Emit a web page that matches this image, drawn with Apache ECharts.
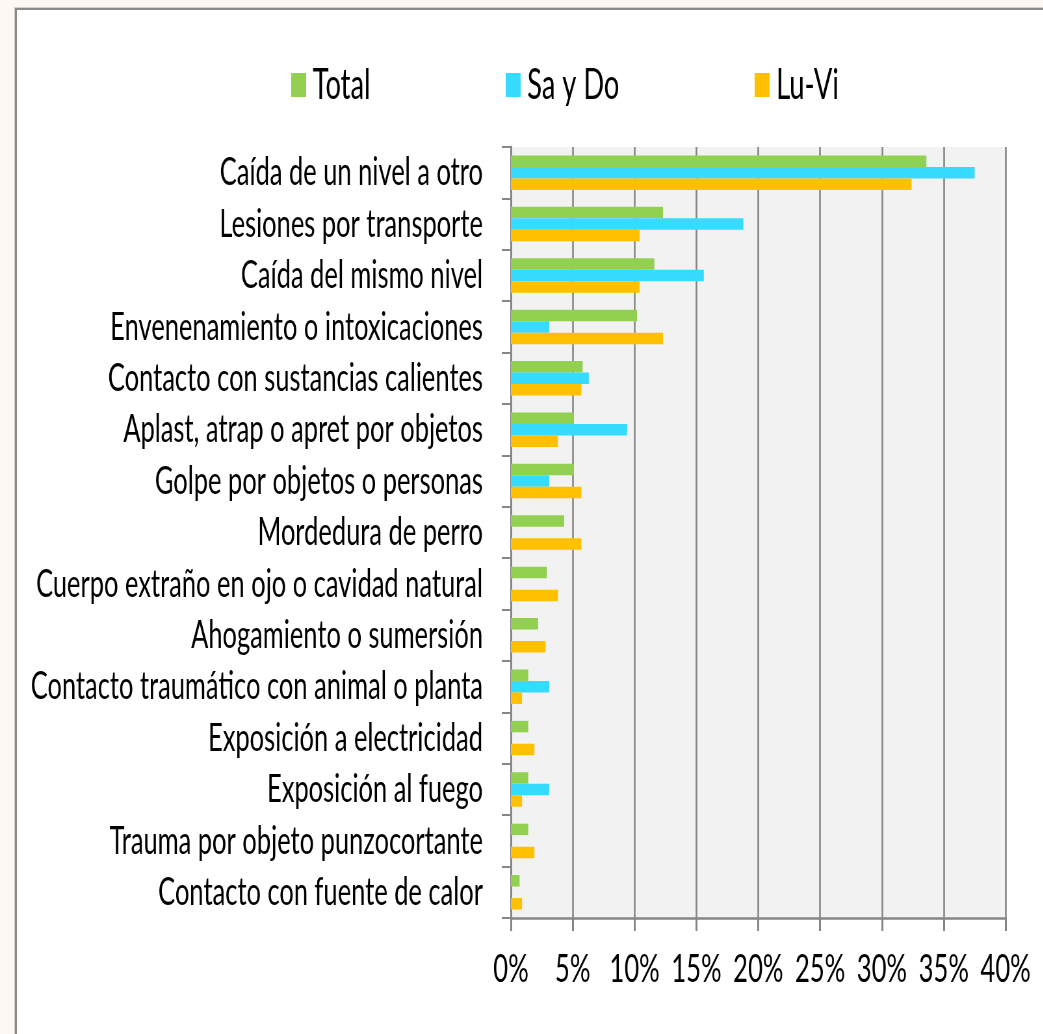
<!DOCTYPE html>
<html>
<head>
<meta charset="utf-8">
<script src="https://cdn.jsdelivr.net/npm/echarts@6/dist/echarts.min.js"></script>
<style>
  html,body{margin:0;padding:0;width:1043px;height:1034px;overflow:hidden;background:#fdf8f3;}
  /* tarjeta blanca con borde gris arriba e izquierda */
  #card{
    position:absolute;left:15px;top:8px;width:1100px;height:1100px;
    background:#fff;
    border-top:2px solid #8a8a8a;border-left:2px solid #8a8a8a;
    box-shadow:-1px -1px 0 #d6d2cc;
  }
  /* el original esta comprimido en horizontal, se reproduce con scaleX */
  #chart{
    position:absolute;left:0;top:0;width:1605px;height:1034px;
    transform:scaleX(0.65);transform-origin:0 0;
  }
</style>
</head>
<body>
<div id="card"></div>
<div id="chart"></div>
<script>
const categories = [
  'Caída de un nivel a otro',
  'Lesiones por transporte',
  'Caída del mismo nivel',
  'Envenenamiento o intoxicaciones',
  'Contacto con sustancias calientes',
  'Aplast, atrap o apret por objetos',
  'Golpe por objetos o personas',
  'Mordedura de perro',
  'Cuerpo extraño en ojo o cavidad natural',
  'Ahogamiento o sumersión',
  'Contacto traumático con animal o planta',
  'Exposición a electricidad',
  'Exposición al fuego',
  'Trauma por objeto punzocortante',
  'Contacto con fuente de calor'
]
const total = [33.6, 12.3, 11.6, 10.2, 5.8, 5.1, 5.1, 4.3, 2.9, 2.2, 1.4, 1.4, 1.4, 1.4, 0.7]
const sayDo = [37.5, 18.8, 15.6, 3.1, 6.3, 9.4, 3.1, 0, 0, 0, 3.1, 0, 3.1, 0, 0]
const luVi  = [32.4, 10.4, 10.4, 12.3, 5.7, 3.8, 5.7, 5.7, 3.8, 2.8, 0.9, 1.9, 0.9, 1.9, 0.9]
const seriesNames = ['Total', 'Sa y Do', 'Lu-Vi']
const colors = ['#92d050', '#37dbff', '#ffc000']

const font = 'Lato'
const axisGray = '#868686'

let chart = echarts.init(document.getElementById('chart'))

let option = {
  animation:false,
  color:colors,
  legend:{
    left:448,
    top:64,
    padding:0,
    icon:'rect',
    itemWidth:23,
    itemHeight:24,
    itemGap:208,
    data:seriesNames,
    textStyle:{fontSize:42, fontFamily:font, color:'#000', padding:[0,0,0,5]}
  },
  grid:{
    left:786,
    right:58,
    top:147,
    bottom:116,
    show:true,
    backgroundColor:'#f2f2f2',
    borderWidth:0,
    outerBoundsMode:'none'
  },
  xAxis:{
    type:'value',
    min:0,
    max:40,
    interval:5,
    axisLine:{show:true, lineStyle:{color:axisGray, width:2.5}},
    axisTick:{show:true, length:13, lineStyle:{color:axisGray, width:3}},
    splitLine:{show:true, lineStyle:{color:axisGray, width:2.6}},
    axisLabel:{
      margin:31,
      fontSize:39.5,
      fontFamily:font,
      color:'#000',
      formatter:'{value}%'
    }
  },
  yAxis:{
    type:'category',
    inverse:true,
    data:categories,
    axisLine:{show:true, lineStyle:{color:axisGray, width:3}},
    axisTick:{show:true, length:14, lineStyle:{color:axisGray, width:2}},
    axisLabel:{
      interval:0, // mostrar todas las categorias
      margin:43,
      fontSize:39.2,
      fontFamily:font,
      color:'#000'
    }
  },
  series:[
    {name:seriesNames[0], type:'bar', data:total, barWidth:11.5, barGap:'0%'},
    {name:seriesNames[1], type:'bar', data:sayDo, barWidth:11.5, barGap:'0%'},
    {name:seriesNames[2], type:'bar', data:luVi, barWidth:11.5, barGap:'0%'}
  ]
}

chart.setOption(option)
</script>
</body>
</html>
